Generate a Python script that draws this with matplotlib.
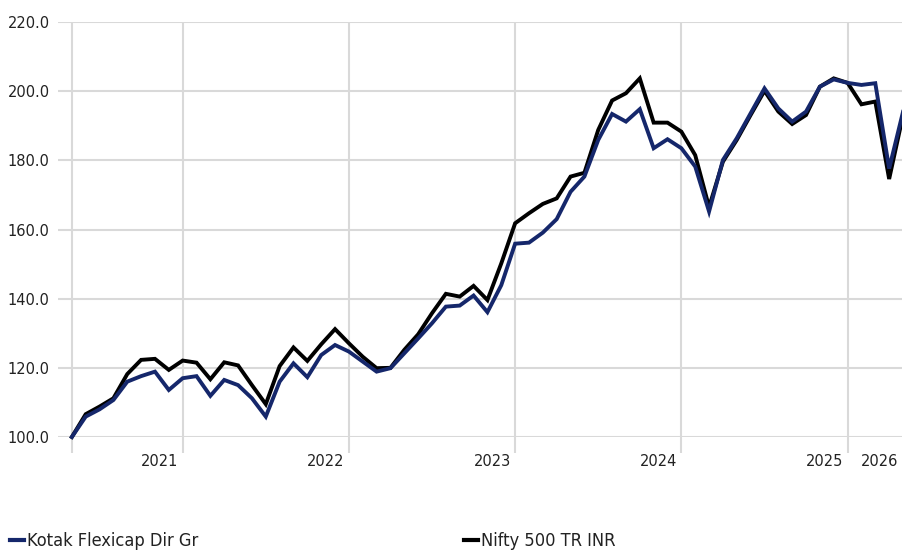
import numpy as np
import matplotlib
matplotlib.use("Agg")
import matplotlib.pyplot as plt
from matplotlib import font_manager
from matplotlib.lines import Line2D
import matplotlib.transforms as mtransforms

# ---------------- data ----------------
series_names = ["Kotak Flexicap Dir Gr", "Nifty 500 TR INR"]
kotak = [100.0, 105.9, 108.0, 110.7, 116.0, 117.6, 118.9, 113.6, 117.0, 117.6,
         111.9, 116.5, 115.0, 111.2, 105.9, 116.0, 121.3, 117.3, 123.7, 126.6,
         124.7, 121.8, 118.9, 119.9, 124.2, 128.5, 132.9, 137.7, 138.0, 140.9,
         136.1, 143.9, 155.9, 156.2, 159.1, 163.0, 170.9, 175.3, 185.9, 193.4,
         191.2, 194.8, 183.5, 186.1, 183.5, 178.2, 165.2, 180.1, 186.4, 193.6,
         200.8, 195.0, 191.2, 194.1, 201.3, 203.4, 202.4, 201.8, 202.3, 177.6,
         194.0]
nifty = [100.0, 106.6, 108.8, 111.2, 118.2, 122.3, 122.6, 119.4, 122.1, 121.5,
         116.7, 121.6, 120.7, 115.0, 109.5, 120.5, 125.9, 122.0, 126.8, 131.2,
         127.1, 123.2, 119.9, 120.0, 125.2, 129.7, 135.8, 141.4, 140.6, 143.7,
         139.6, 150.2, 161.8, 164.7, 167.4, 169.0, 175.3, 176.4, 188.8, 197.3,
         199.4, 203.7, 190.9, 190.9, 188.3, 181.5, 166.5, 179.6, 185.9, 193.1,
         200.1, 194.1, 190.5, 193.1, 201.3, 203.7, 202.4, 196.2, 197.0, 174.6,
         193.0]
months = np.arange(len(kotak))
grid_months = [0, 8, 20, 32, 44, 56]
year_label_months = [8, 20, 32, 44, 56, 60]
year_labels = ["2021", "2022", "2023", "2024", "2025", "2026"]
y_ticks = [100, 120, 140, 160, 180, 200, 220]

# ---------------- font choice ----------------
def pick_font():
    pref = []
    for f in font_manager.fontManager.ttflist:
        nm = f.name
        st = f.stretch
        cond = ("Condensed" in nm or "Narrow" in nm or
                st in ("condensed", "semi-condensed", "extra-condensed", "ultra-condensed") or
                (isinstance(st, int) and st < 500))
        if not cond:
            continue
        if f.weight not in (400, "normal", "regular", "book"):
            continue
        if f.style != "normal":
            continue
        if "Mono" in nm or "Serif" in nm or "CJK" in nm:
            continue
        pref.append(f)
    if pref:
        return font_manager.FontProperties(fname=pref[0].fname)
    for fam in ["Liberation Sans", "Roboto", "DejaVu Sans"]:
        if any(f.name == fam for f in font_manager.fontManager.ttflist):
            return font_manager.FontProperties(family=fam)
    return font_manager.FontProperties()

base_fp = pick_font()

BLUE = "#15276b"
GRID = "#d9d9d9"
TXT = "#222222"

fig = plt.figure(figsize=(9.03, 5.52), dpi=100)
W, H = 903, 552
renderer = fig.canvas.get_renderer()


def fit_size(s, target_px, max_pt):
    fp = base_fp.copy()
    fp.set_size(10)
    t = fig.text(0, 0, s, fontproperties=fp)
    w = t.get_window_extent(renderer).width
    t.remove()
    return min(max_pt, 10 * target_px / w)


fs_y = fit_size("220.0", 42, 14)
fs_x = fit_size("2021", 37, 14)
fs_leg = fit_size(series_names[0], 172, 14)

ax = fig.add_axes([58 / W, (H - 437) / H, (903 - 58) / W, (437 - 22) / H])
ax.set_xlim(-1.0, 60)
ax.set_ylim(100, 220)
for s in ax.spines.values():
    s.set_visible(False)

fp_y = base_fp.copy(); fp_y.set_size(fs_y)
ax.set_yticks(y_ticks)
ax.set_yticklabels([f"{v:.1f}" for v in y_ticks], fontproperties=fp_y, color=TXT)
ax.tick_params(axis="y", length=0, pad=6)
ax.yaxis.grid(True, color=GRID, linewidth=1.5)

ax.set_xticks(grid_months)
ax.set_xticklabels([""] * len(grid_months))
ax.tick_params(axis="x", length=11.5, width=1.5, color=GRID, direction="out")
ax.xaxis.grid(True, color=GRID, linewidth=1.5)
ax.set_axisbelow(True)

ax.plot(months, nifty, color="black", linewidth=2.8, solid_joinstyle="miter", zorder=3, clip_on=False)
ax.plot(months, kotak, color=BLUE, linewidth=2.8, solid_joinstyle="miter", zorder=4, clip_on=False)

# year labels, right-aligned just left of the year gridline
fp_x = base_fp.copy(); fp_x.set_size(fs_x)
off = mtransforms.ScaledTranslation(-4.5 / 100, -24.5 / 100, fig.dpi_scale_trans)
trans = mtransforms.blended_transform_factory(ax.transData, ax.transAxes) + off
for m, lab in zip(year_label_months, year_labels):
    ax.text(m, 0, lab, transform=trans, ha="right", va="center",
            fontproperties=fp_x, color=TXT)

# legend: two entries placed separately
h1 = Line2D([], [], color=BLUE, linewidth=3)
h2 = Line2D([], [], color="black", linewidth=3)
fp_l = base_fp.copy(); fp_l.set_size(fs_leg)
leg_kw = dict(frameon=False, loc="center left", borderpad=0, borderaxespad=0,
              handlelength=0.75, handletextpad=0.2, prop=fp_l, labelcolor=TXT)
fig.legend([h1], [series_names[0]], bbox_to_anchor=(10 / W, 1 - 541 / H), **leg_kw)
fig.legend([h2], [series_names[1]], bbox_to_anchor=(464 / W, 1 - 541 / H), **leg_kw)

fig.savefig("out.png", dpi=100)
